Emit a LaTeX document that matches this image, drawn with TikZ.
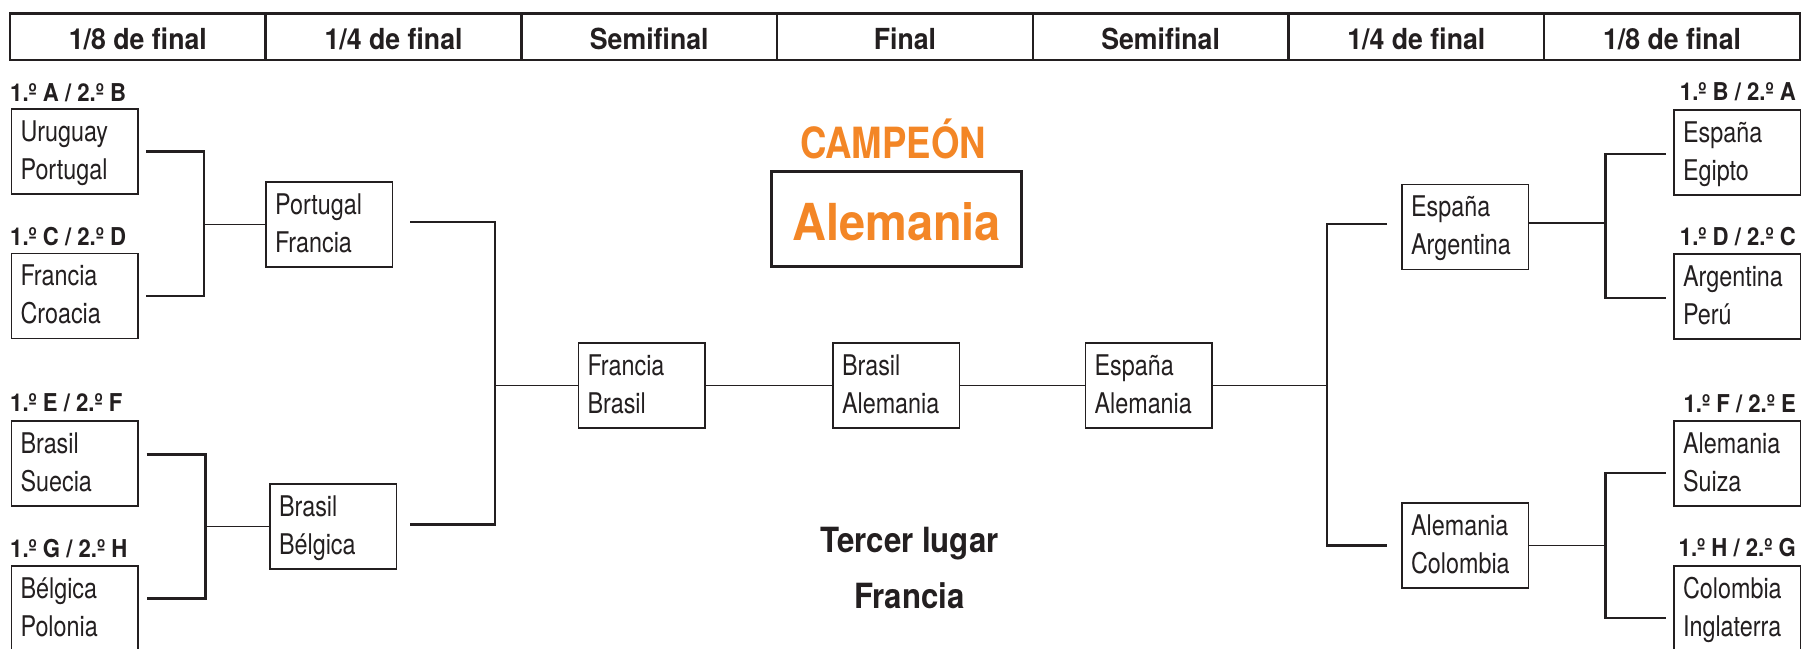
\documentclass[tikz,border=0pt]{standalone}
\usepackage{fontspec}
\newfontfamily\rcn[FakeStretch=0.82]{TeX Gyre Heros}
\newfontfamily\bhd[FakeStretch=0.92]{TeX Gyre Heros}
\newfontfamily\blb[FakeStretch=0.90]{TeX Gyre Heros}
\newfontfamily\bcp[FakeStretch=0.85]{TeX Gyre Heros}
\definecolor{ink}{RGB}{35,31,32}
\definecolor{champ}{RGB}{243,134,38}
\newcommand\mystrut{\rule[-9pt]{0pt}{35pt}}
\newcommand\teams[2]{\mystrut#1\\\mystrut#2}
\tikzset{
  matchbox/.style={draw=ink, line width=1.8pt, anchor=north west, outer sep=0pt,
    minimum width=126.5pt, minimum height=85pt, text width=108.5pt,
    inner xsep=9pt, inner ysep=0pt, align=left, text=ink,
    font=\rcn\fontsize{28.5}{38}\selectfont},
  hcell/.style={draw=ink, line width=2.5pt, minimum width=255.7pt, minimum height=46.5pt,
    inner sep=0pt, outer sep=0pt, text=ink, text height=26.4pt, text depth=0pt,
    font=\bhd\bfseries\fontsize{29}{30}\selectfont},
  grp/.style={inner sep=0pt, text=ink, font=\blb\bfseries\fontsize{24.6}{26}\selectfont},
  bracket/.style={draw=ink, line width=2.6pt},
  link/.style={draw=ink, line width=1.5pt},
}
\begin{document}
\begin{tikzpicture}[x=1pt,y=-1pt]
\useasboundingbox (0,0) rectangle (1804,648);
% header
\node[hcell] (h1) at (137.85,36.5) {1/8 de final};
\node[hcell] (h2) at (393.55,36.5) {1/4 de final};
\node[hcell] (h3) at (649.25,36.5) {Semifinal};
\node[hcell] (h4) at (904.95,36.5) {Final};
\node[hcell] (h5) at (1160.65,36.5) {Semifinal};
\node[hcell] (h6) at (1416.35,36.5) {1/4 de final};
\node[hcell] (h7) at (1672.05,36.5) {1/8 de final};
% group labels
\node[grp,anchor=base west] (la1) at (10,101) {1.º A / 2.º B};
\node[grp,anchor=base west] (la2) at (10,245) {1.º C / 2.º D};
\node[grp,anchor=base west] (la3) at (10,411.7) {1.º E / 2.º F};
\node[grp,anchor=base west] (la4) at (10,557.3) {1.º G / 2.º H};
\node[grp,anchor=base east] (la5) at (1796,100) {1.º B / 2.º A};
\node[grp,anchor=base east] (la6) at (1796,245) {1.º D / 2.º C};
\node[grp,anchor=base east] (la7) at (1796,412.7) {1.º F / 2.º E};
\node[grp,anchor=base east] (la8) at (1796,556.7) {1.º H / 2.º G};
% round of 16
\node[matchbox] (r1) at (11.5,109) {\teams{Uruguay}{Portugal}};
\node[matchbox] (r2) at (11.5,253.5) {\teams{Francia}{Croacia}};
\node[matchbox] (r3) at (11.5,421) {\teams{Brasil}{Suecia}};
\node[matchbox] (r4) at (11.5,566) {\teams{Bélgica}{Polonia}};
\node[matchbox] (r5) at (1674,110) {\teams{España}{Egipto}};
\node[matchbox] (r6) at (1674,254) {\teams{Argentina}{Perú}};
\node[matchbox] (r7) at (1674,421) {\teams{Alemania}{Suiza}};
\node[matchbox] (r8) at (1674,566) {\teams{Colombia}{Inglaterra}};
% quarter finals
\node[matchbox] (q1) at (266,182) {\teams{Portugal}{Francia}};
\node[matchbox] (q2) at (270,484) {\teams{Brasil}{Bélgica}};
\node[matchbox] (q3) at (1402,184.5) {\teams{España}{Argentina}};
\node[matchbox] (q4) at (1402,503) {\teams{Alemania}{Colombia}};
% semis and final
\node[matchbox] (s1) at (578.5,343) {\teams{Francia}{Brasil}};
\node[matchbox] (f)  at (833,343) {\teams{Brasil}{Alemania}};
\node[matchbox] (s2) at (1085.5,343) {\teams{España}{Alemania}};
% champion
\node[text=champ, anchor=base, inner sep=0pt, font=\bcp\bfseries\fontsize{43}{44}\selectfont] (camp) at (893,158.3) {CAMPEÓN};
\node[draw=ink, line width=2.5pt, minimum width=250pt, minimum height=95pt, inner sep=0pt,
  text=champ, text height=41.6pt, text depth=0pt,
  font=\bhd\bfseries\fontsize{51}{52}\selectfont] (champbox) at (896.7,219.2) {Alemania};
% third place
\node[grp, anchor=base, font=\blb\bfseries\fontsize{34.7}{36}\selectfont] (tl1) at (909.5,552.7) {Tercer lugar};
\node[grp, anchor=base, font=\blb\bfseries\fontsize{34.7}{36}\selectfont] (tl2) at (909.5,608.3) {Francia};
% junctions
\coordinate (jl1) at (204,224.5);
\coordinate (jl2) at (205.5,526.5);
\coordinate (jl3) at (495,385.5);
\coordinate (jr3) at (1327,385.5);
\coordinate (jr1) at (1605.5,223);
\coordinate (jr2) at (1605.5,545.5);
% left side connectors
\draw[bracket] ([xshift=8pt]r1.east) -| (jl1) |- ([xshift=8pt]r2.east);
\draw[link] (jl1) -- (q1.west);
\draw[bracket] ([xshift=8.5pt,yshift=9pt]r3.east) -| (jl2) |- ([xshift=8.5pt,yshift=10pt]r4.east);
\draw[link] (jl2) -- (q2.west);
\draw[bracket] ([xshift=17.5pt,yshift=2.5pt]q1.east) -| (jl3) |- ([xshift=13.5pt,yshift=1.8pt]q2.east);
\draw[link] (jl3) -- (s1.west);
% centre chain
\draw[link] (s1.east) -- (f.west);
\draw[link] (f.east) -- (s2.west);
\draw[link] (s2.east) -- (jr3);
% right side connectors
\draw[bracket] ([xshift=-15pt,yshift=3pt]q3.west) -| (jr3) |- ([xshift=-15pt]q4.west);
\draw[link] ([yshift=4pt]q3.east) -- (jr1);
\draw[bracket] ([xshift=-8.5pt,yshift=-1.5pt]r5.west) -| (jr1) |- ([xshift=-8.5pt,yshift=-1.5pt]r6.west);
\draw[link] (q4.east) -- (jr2);
\draw[bracket] ([xshift=-8.5pt,yshift=-9.5pt]r7.west) -| (jr2) |- ([xshift=-8.5pt,yshift=-9.5pt]r8.west);
\end{tikzpicture}
\end{document}
